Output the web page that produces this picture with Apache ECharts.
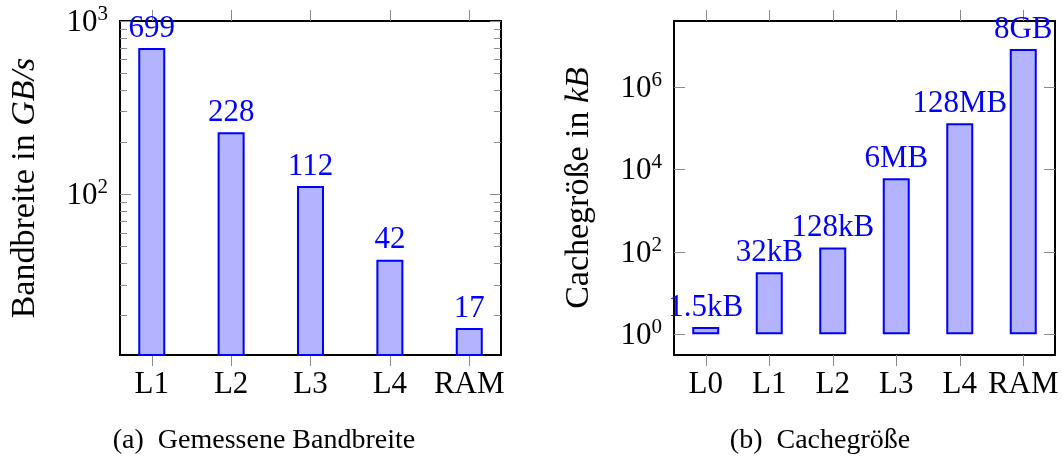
<!DOCTYPE html>
<html>
<head>
<meta charset="utf-8">
<script src="https://cdn.jsdelivr.net/npm/echarts@6/dist/echarts.min.js"></script>
<style>
  html, body { margin: 0; padding: 0; background: #fff; }
  #chart { width: 1062px; height: 457px; }
</style>
</head>
<body>
<div id="chart"></div>
<script>
// (a) gemessene Bandbreite in GB/s
const bwCategories = ['L1', 'L2', 'L3', 'L4', 'RAM'];
const bwValues = [699, 228, 112, 42, 17];
const bwMajorTicks = [100, 1000];
const bwMinorTicks = [20, 30, 40, 50, 60, 70, 80, 90, 200, 300, 400, 500, 600, 700, 800, 900];

// (b) Cachegröße in kB
const cacheCategories = ['L0', 'L1', 'L2', 'L3', 'L4', 'RAM'];
const cacheValues = [1.5, 32, 128, 6144, 131072, 8388608];
const cacheLabels = ['1.5kB', '32kB', '128kB', '6MB', '128MB', '8GB'];
const cacheMajorTicks = [1, 100, 10000, 1000000];

const FONT = 'Liberation Serif';
const BLUE = '#0000ff';
const FILL = '#b3b3ff';
const TICK = '#8c8c8c';

let chart = echarts.init(document.getElementById('chart'));

function powLabel(v) {
  let e = Math.round(Math.log10(v));
  return '{b|10}{s|' + e + '}';
}
const powRich = {
  b: { fontFamily: FONT, fontSize: 31, color: '#000', lineHeight: 34, verticalAlign: 'bottom' },
  s: { fontFamily: FONT, fontSize: 21, color: '#000', lineHeight: 34, verticalAlign: 'top' }
};

function idx(n) {
  let out = [];
  for (let i = 0; i < n; i++) out.push(i);
  return out;
}

// x-Achsen (unten mit Beschriftung, oben nur Ticks)
function xAxes(grid, cats, pad) {
  let base = {
    gridIndex: grid,
    type: 'value',
    min: -pad,
    max: cats.length - 1 + pad,
    axisLine: { show: false, onZero: false },
    splitLine: { show: false },
    axisTick: { show: true, inside: false, length: 11, customValues: idx(cats.length), lineStyle: { color: TICK, width: 1 } }
  };
  return [
    Object.assign({}, base, {
      position: 'bottom',
      axisLabel: {
        customValues: idx(cats.length),
        formatter: function (v) { return cats[Math.round(v)]; },
        fontFamily: FONT, fontSize: 31, color: '#000', margin: 14
      }
    }),
    Object.assign({}, base, { position: 'top', axisLabel: { show: false } })
  ];
}

function yAxis(grid, pos, min, max, ticks, len, labels, name) {
  let ax = {
    gridIndex: grid,
    type: 'log',
    logBase: 10,
    position: pos,
    min: min,
    max: max,
    axisLine: { show: false, onZero: false },
    splitLine: { show: false },
    minorTick: { show: false },
    axisTick: { show: true, inside: true, length: len, customValues: ticks, lineStyle: { color: TICK, width: 1 } },
    axisLabel: { show: false }
  };
  if (labels) {
    ax.axisLabel = { show: true, customValues: labels, formatter: powLabel, rich: powRich, margin: 12 };
  }
  if (name) {
    ax.name = name;
    ax.nameLocation = 'middle';
    ax.nameGap = 78;
    ax.nameTextStyle = {
      fontFamily: FONT, fontSize: 34, color: '#000',
      rich: { i: { fontFamily: FONT, fontSize: 34, fontStyle: 'italic', color: '#000' } }
    };
  }
  return ax;
}

const bwMin = 11.87, bwMax = 1000;
const cMin = 0.316, cMax = 3.98e7;

let option = {
  backgroundColor: '#fff',
  animation: false,
  grid: [
    { left: 120, top: 21, width: 381, height: 334, show: true, borderColor: '#000', borderWidth: 2, containLabel: false },
    { left: 674, top: 21, width: 381, height: 334, show: true, borderColor: '#000', borderWidth: 2, containLabel: false }
  ],
  xAxis: xAxes(0, bwCategories, 0.4).concat(xAxes(1, cacheCategories, 0.5)),
  yAxis: [
    yAxis(0, 'left', bwMin, bwMax, bwMajorTicks, 11, bwMajorTicks, 'Bandbreite in {i|GB/s}'),
    yAxis(0, 'left', bwMin, bwMax, bwMinorTicks, 7, null, null),
    yAxis(0, 'right', bwMin, bwMax, bwMajorTicks, 11, null, null),
    yAxis(0, 'right', bwMin, bwMax, bwMinorTicks, 7, null, null),
    yAxis(1, 'left', cMin, cMax, cacheMajorTicks, 11, cacheMajorTicks, 'Cachegröße in {i|kB}'),
    yAxis(1, 'right', cMin, cMax, cacheMajorTicks, 11, null, null)
  ],
  series: [
    {
      type: 'bar',
      xAxisIndex: 0,
      yAxisIndex: 0,
      barWidth: 27,
      clip: true,
      data: bwValues.map(function (v, i) { return [i, v]; }),
      itemStyle: { color: FILL, borderColor: BLUE, borderWidth: 2 },
      label: {
        show: true, position: 'top', distance: 4,
        fontFamily: FONT, fontSize: 31, color: BLUE,
        formatter: function (p) { return String(bwValues[p.dataIndex]); }
      }
    },
    {
      type: 'bar',
      xAxisIndex: 2,
      yAxisIndex: 4,
      barWidth: 27,
      clip: true,
      data: cacheValues.map(function (v, i) { return [i, v]; }),
      itemStyle: { color: FILL, borderColor: BLUE, borderWidth: 2 },
      label: {
        show: true, position: 'top', distance: 4,
        fontFamily: FONT, fontSize: 31, color: BLUE,
        formatter: function (p) { return cacheLabels[p.dataIndex]; }
      }
    }
  ],
  graphic: [
    { type: 'text', x: 264, y: 441, style: { text: '(a)\u2002Gemessene Bandbreite', font: '28px "Liberation Serif"', fill: '#000', align: 'center', verticalAlign: 'middle' } },
    { type: 'text', x: 820, y: 441, style: { text: '(b)\u2002Cachegröße', font: '28px "Liberation Serif"', fill: '#000', align: 'center', verticalAlign: 'middle' } }
  ]
};

chart.setOption(option);
</script>
</body>
</html>
